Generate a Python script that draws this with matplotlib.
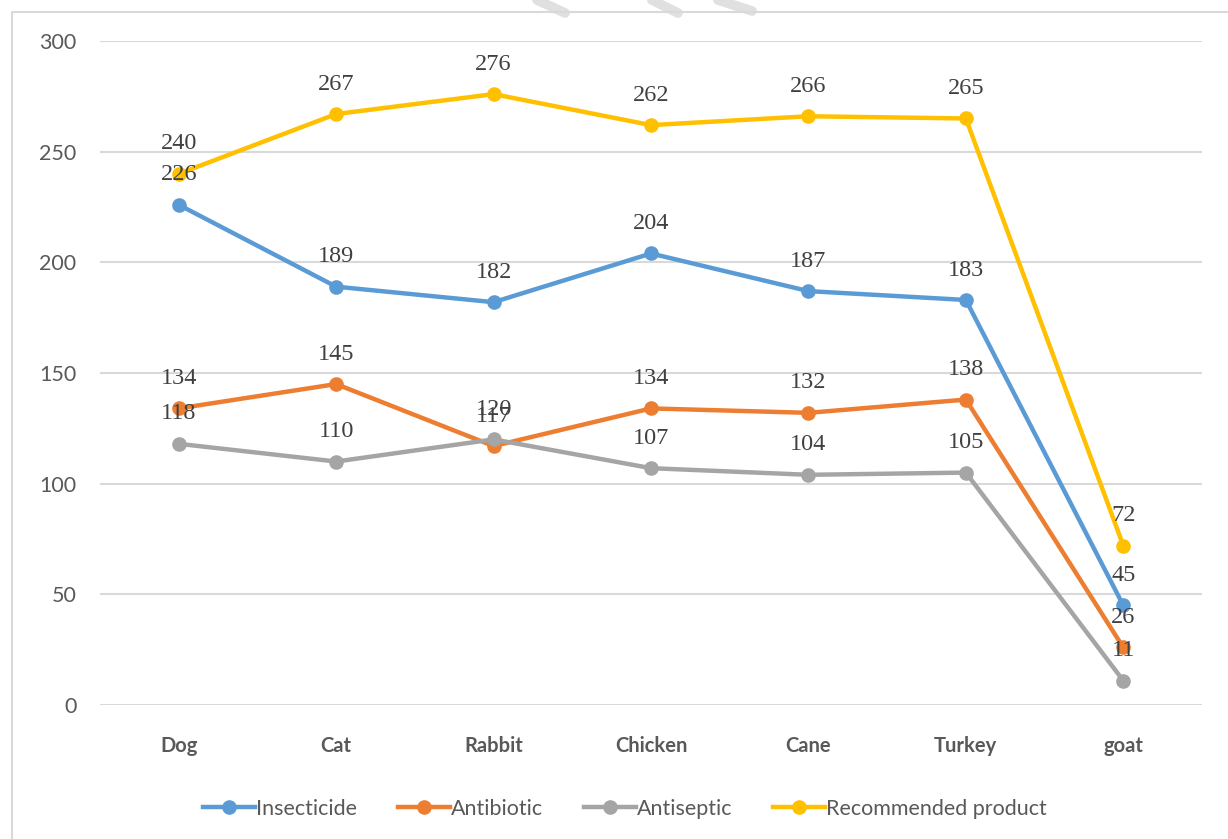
import matplotlib
matplotlib.use("Agg")
import matplotlib.pyplot as plt
from matplotlib.lines import Line2D
from matplotlib.patches import Rectangle

# data
categories = ["Dog", "Cat", "Rabbit", "Chicken", "Cane", "Turkey", "goat"]
insecticide = [226, 189, 182, 204, 187, 183, 45]
antibiotic = [134, 145, 117, 134, 132, 138, 26]
antiseptic = [118, 110, 120, 107, 104, 105, 11]
recommended = [240, 267, 276, 262, 266, 265, 72]
series_names = ["Insecticide", "Antibiotic", "Antiseptic", "Recommended product"]
y_ticks = [0, 50, 100, 150, 200, 250, 300]

colors = ["#5B9BD5", "#ED7D31", "#A5A5A5", "#FFC000"]
W, H = 1228, 839

fig = plt.figure(figsize=(W / 100, H / 100), dpi=100)

# faint watermark streaks at the top edge
for (x0, y0, x1, y1) in [(537, 0, 565, 13), (652, 0, 678, 13), (718, 0, 752, 11)]:
    fig.add_artist(Line2D([x0 / W, x1 / W], [1 - y0 / H, 1 - y1 / H],
                          color="#E0E0E0", lw=7, solid_capstyle="round", zorder=0))

# chart frame
fig.add_artist(Rectangle((12 / W, -0.1), 1.2, 1 - 12 / H + 0.1, transform=fig.transFigure,
                         fill=False, edgecolor="#D9D9D9", lw=1.5, zorder=1))

ax = fig.add_axes((100 / W, 1 - 705 / H, 1102 / W, (705 - 41) / H))
x = list(range(len(categories)))

all_series = [insecticide, antibiotic, antiseptic, recommended]
for vals, name, c in zip(all_series, series_names, colors):
    ax.plot(x, vals, color=c, lw=3.2, marker="o", markersize=9.5, label=name, zorder=3)

for vals in all_series:
    for xi, v in zip(x, vals):
        ax.annotate(str(v), (xi, v), xytext=(0, 21.5), textcoords="offset points",
                    ha="center", va="center", fontsize=17.5, color="#404040",
                    family="Liberation Serif", zorder=4)

ax.set_xlim(-0.5, 6.5)
ax.set_ylim(0, 300)
ax.set_yticks(y_ticks)
ax.set_yticklabels([str(t) for t in y_ticks], family="Lato", fontsize=15.5, color="#595959")
ax.set_xticks(x)
ax.set_xticklabels(categories, family="Lato", fontweight="bold", fontsize=14.5, color="#595959")
ax.tick_params(axis="both", length=0)
ax.tick_params(axis="x", pad=22)
ax.tick_params(axis="y", pad=17)
for s in ax.spines.values():
    s.set_visible(False)
ax.grid(axis="y", color="#D9D9D9", lw=1.5)
ax.set_axisbelow(True)

leg = fig.legend(loc="center", bbox_to_anchor=(625 / W, 1 - 809 / H), ncol=4, frameon=False,
                 prop={"family": "Lato", "size": 15.5}, handlelength=2.4, handletextpad=0.05,
                 columnspacing=1.9)
for t in leg.get_texts():
    t.set_color("#595959")

fig.savefig("out.png", dpi=100)
